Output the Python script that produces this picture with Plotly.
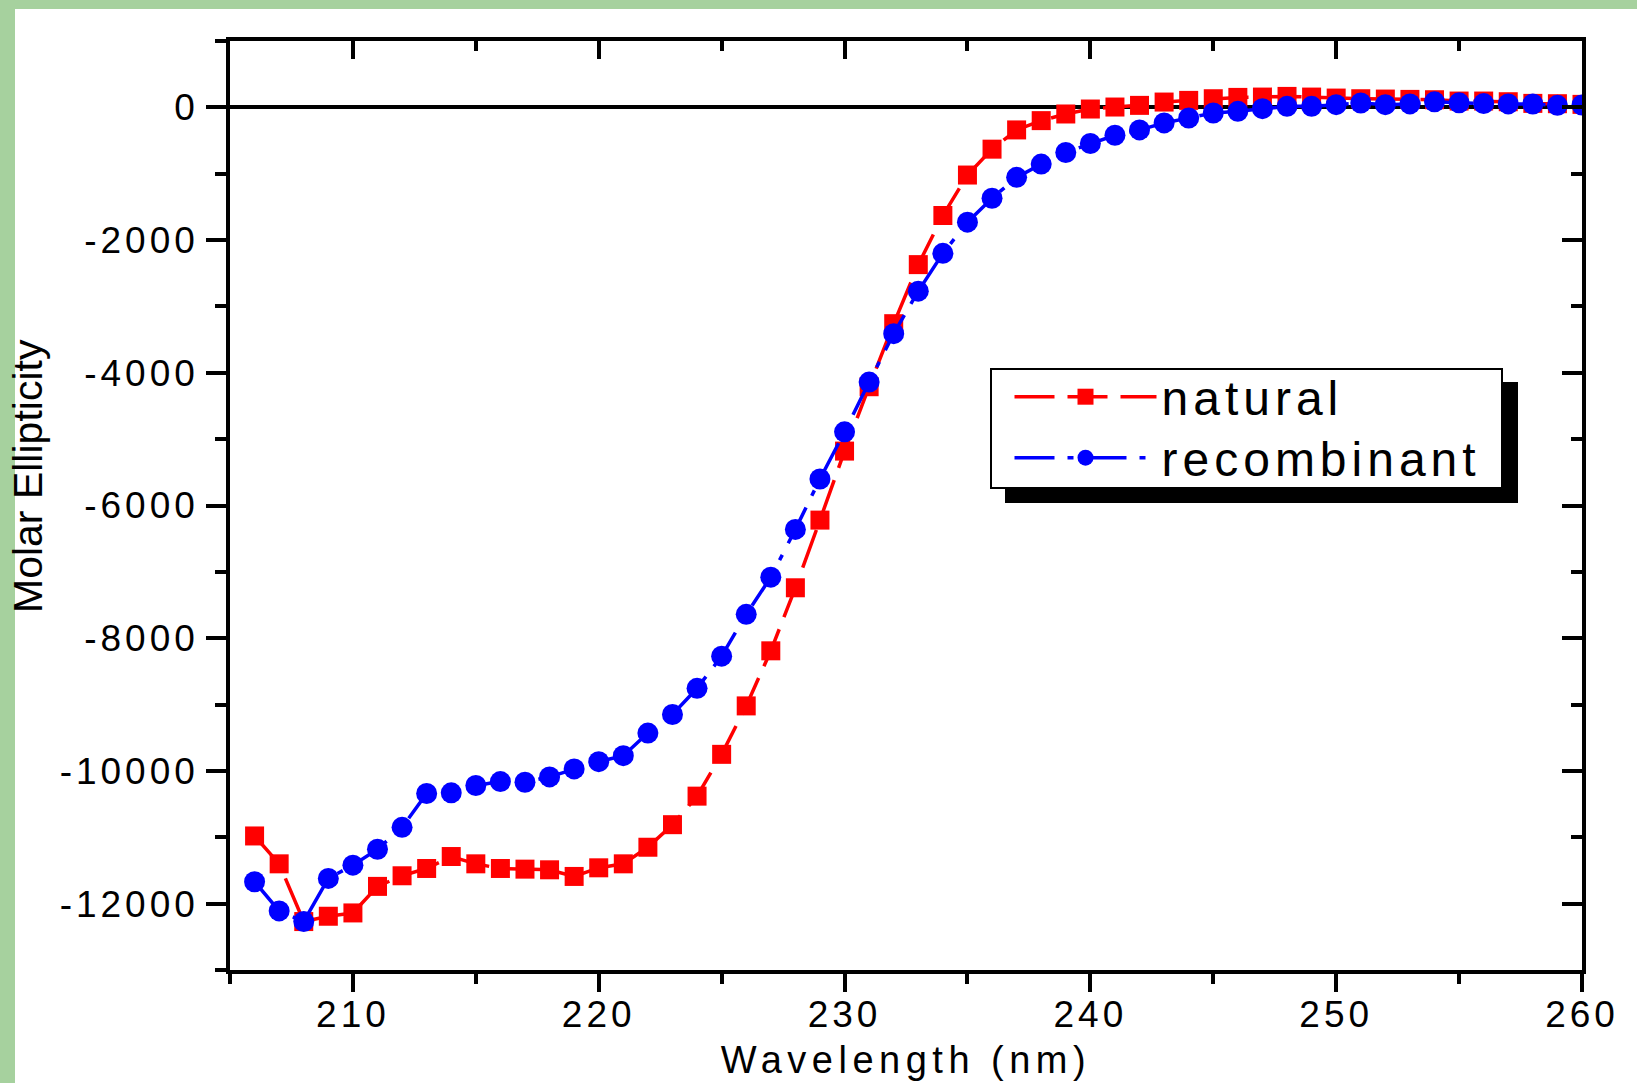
import plotly.graph_objects as go

# ---------------- data ----------------
wavelength = list(range(206, 261))

natural = [
    -10980, -11400, -12270, -12190, -12140, -11740, -11580, -11470, -11290, -11400,
    -11470, -11480, -11490, -11590, -11460, -11400, -11150, -10810, -10380, -9750,
    -9020, -8190, -7240, -6220, -5180, -4210, -3260, -2370, -1630, -1020,
    -630, -340, -200, -100, -25, 5, 30, 80, 105, 130,
    150, 155, 165, 155, 140, 130, 125, 120, 115, 95,
    95, 85, 60, 55, 45,
]

recombinant = [
    -11670, -12110, -12270, -11620, -11420, -11180, -10850, -10340, -10330, -10220,
    -10160, -10170, -10090, -9970, -9860, -9770, -9430, -9150, -8755, -8270,
    -7640, -7080, -6360, -5600, -4890, -4140, -3410, -2770, -2200, -1730,
    -1370, -1055, -855, -680, -545, -420, -340, -235, -160, -85,
    -60, -20, 15, 15, 40, 65, 40, 52, 83, 68,
    57, 52, 50, 30, 35,
]

series_names = ["natural", "recombinant"]
x_range = [205, 260]
y_range = [-13000, 1000]
y_tick_vals = [0, -2000, -4000, -6000, -8000, -10000, -12000]
y_tick_text = ["0", "-2000", "-4000", "-6000", "-8000", "-10000", "-12000"]
x_title = "Wavelength (nm)"
y_title = "Molar Ellipticity"

# ---------------- layout constants ----------------
W, H = 1637, 1083
L, R, T, B = 230, 55, 41, 113
PW, PH = W - L - R, H - T - B
FONT = "Liberation Sans, Arial, Helvetica, sans-serif"
GREEN = "#a6d19e"


def fx(px):
    return (px - L) / PW


def fy(py):
    return (H - B - py) / PH


fig = go.Figure()
fig.add_trace(go.Scatter(
    x=wavelength, y=natural, name=series_names[0], mode="lines+markers",
    line=dict(color="#ff0000", width=3.5, dash="40px,13px"),
    marker=dict(symbol="square", size=19, color="#ff0000", line=dict(width=0)),
    legend="legend",
))
fig.add_trace(go.Scatter(
    x=wavelength, y=recombinant, name=series_names[1], mode="lines+markers",
    line=dict(color="#0000ff", width=3.5, dash="40px,13px,6px,13px"),
    marker=dict(symbol="circle", size=21, color="#0000ff", line=dict(width=0)),
    legend="legend2",
))
# carrier trace for the mirrored (top / right) axes
fig.add_trace(go.Scatter(x=[None], y=[None], xaxis="x2", yaxis="y2",
                         showlegend=False, hoverinfo="skip"))

tickfont = dict(family=FONT, size=37, color="black")
base = dict(showline=True, linecolor="black", linewidth=3.5, showgrid=False,
            tickcolor="black", tickwidth=3.5)

legend_common = dict(xanchor="left", yanchor="middle", bgcolor="rgba(0,0,0,0)",
                     borderwidth=0, itemwidth=142,
                     font=dict(family=FONT, size=48, color="black"))

fig.update_layout(
    width=W, height=H,
    margin=dict(l=L, r=R, t=T, b=B, pad=0),
    paper_bgcolor=GREEN,
    plot_bgcolor="white",
    font=dict(family=FONT, color="black"),
    xaxis=dict(**base, range=x_range, ticks="outside", ticklen=18, dtick=10, tick0=0,
               tickfont=tickfont, zeroline=False, ticklabelstandoff=-9,
               minor=dict(dtick=5, tick0=205, ticks="outside", ticklen=10,
                          tickwidth=3.5, tickcolor="black")),
    yaxis=dict(**base, range=y_range, ticks="outside", ticklen=20,
               tickmode="array", tickvals=y_tick_vals, ticktext=y_tick_text,
               tickfont=tickfont, zeroline=True, zerolinecolor="black", zerolinewidth=3.5,
               minor=dict(dtick=1000, tick0=0, ticks="outside", ticklen=11,
                          tickwidth=3.5, tickcolor="black")),
    xaxis2=dict(**base, range=x_range, overlaying="x", anchor="y2", side="top",
                ticks="inside", ticklen=18, dtick=10, tick0=0, showticklabels=False,
                zeroline=False,
                minor=dict(dtick=5, tick0=205, ticks="inside", ticklen=10,
                           tickwidth=3.5, tickcolor="black")),
    yaxis2=dict(**base, range=y_range, overlaying="y", anchor="x2", side="right",
                ticks="inside", ticklen=20, tickmode="array", tickvals=y_tick_vals,
                showticklabels=False, zeroline=False,
                minor=dict(dtick=1000, tick0=0, ticks="inside", ticklen=11,
                           tickwidth=3.5, tickcolor="black")),
    showlegend=True,
    legend=dict(**legend_common, x=fx(1009.5), y=fy(397)),
    legend2=dict(**legend_common, x=fx(1009.5), y=fy(458)),
    shapes=[
        dict(type="rect", xref="paper", yref="paper", layer="below",
             x0=fx(15), x1=fx(W + 5), y0=fy(H + 5), y1=fy(9),
             fillcolor="white", line=dict(width=0)),
        dict(type="rect", xref="paper", yref="paper", layer="above",
             x0=fx(1005), x1=fx(1518), y0=fy(503), y1=fy(382),
             fillcolor="black", line=dict(width=0)),
        dict(type="rect", xref="paper", yref="paper", layer="above",
             x0=fx(991), x1=fx(1502), y0=fy(488), y1=fy(369),
             fillcolor="white", line=dict(color="black", width=2)),
    ],
    annotations=[
        dict(text=x_title, xref="paper", yref="paper", x=fx(906), y=fy(1060),
             xanchor="center", yanchor="middle", showarrow=False,
             font=dict(family=FONT, size=38, color="black")),
        dict(text=y_title, xref="paper", yref="paper", x=fx(28), y=fy(476),
             xanchor="center", yanchor="middle", showarrow=False, textangle=-90,
             font=dict(family=FONT, size=41, color="black")),
    ],
)

post = """
var gd = document.getElementById('{plot_id}');
var st = document.createElement('style');
st.textContent = '.xtick text, .ytick text { letter-spacing: 4px; }' +
  ' .legendtext, [class^="legend"] text { letter-spacing: 5px !important; }' +
  ' .scrollbox { clip-path: none !important; }' +
  ' g.annotation[data-index="0"] text { letter-spacing: 5.5px; }';
document.head.appendChild(st);
var NAMES = ['natural', 'recombinant'];
function spaceLegend() {
  document.querySelectorAll('text').forEach(function (t) {
    if (NAMES.indexOf((t.textContent || '').trim()) >= 0) {
      t.style.letterSpacing = '5px';
      t.setAttribute('letter-spacing', '5');
      t.querySelectorAll('tspan').forEach(function (s) { s.style.letterSpacing = '5px'; });
    }
  });
  document.querySelectorAll('g.scrollbox').forEach(function (g) {
    g.removeAttribute('clip-path');
    g.style.clipPath = 'none';
  });
}
spaceLegend();
setTimeout(spaceLegend, 30);
setTimeout(spaceLegend, 200);
if (gd && gd.on) { gd.on('plotly_afterplot', spaceLegend); }
"""

fig.write_html("out.html", config={"displayModeBar": False}, post_script=post)
